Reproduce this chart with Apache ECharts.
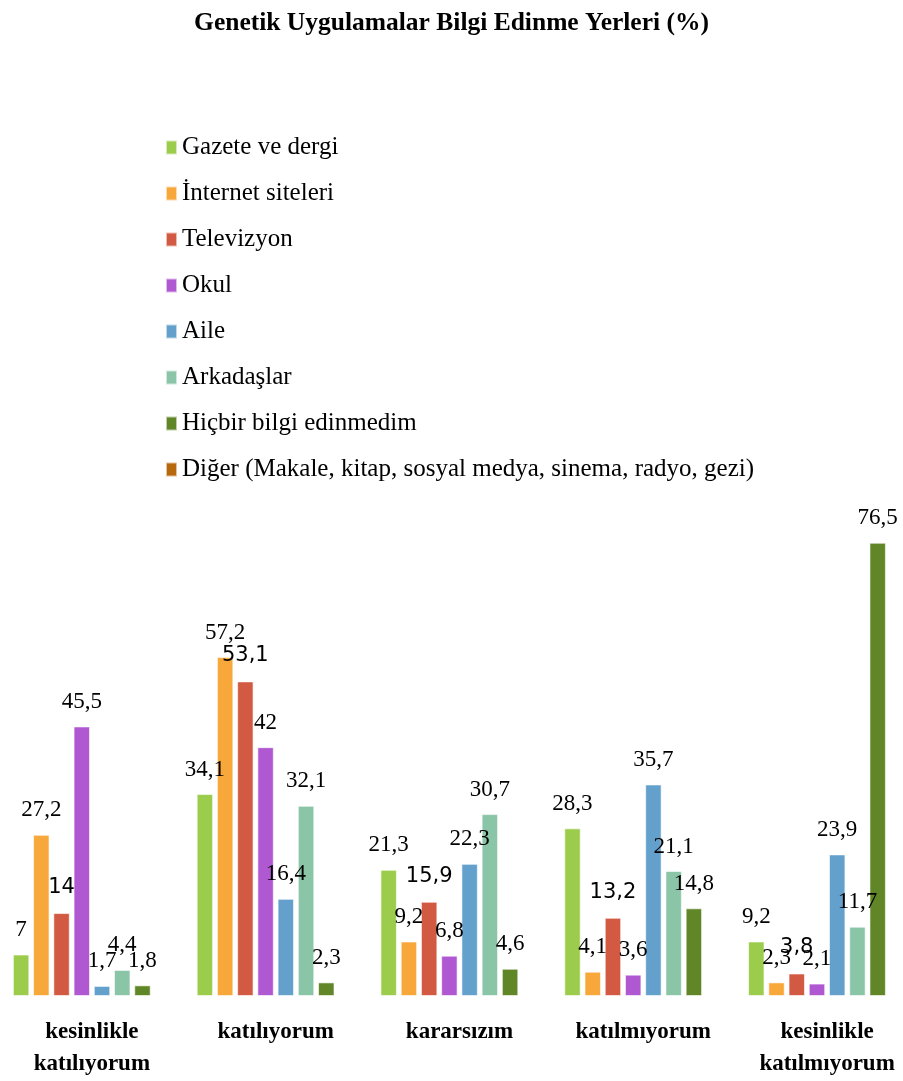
<!DOCTYPE html>
<html>
<head>
<meta charset="utf-8">
<script src="https://cdn.jsdelivr.net/npm/echarts@6/dist/echarts.min.js"></script>
<style>
	html, body { margin: 0; padding: 0; background: #fff; }
	#chart { width: 903px; height: 1081px; }
</style>
</head>
<body>
<div id="chart"></div>
<script>

// categories (answers) on the x axis
var categories = [
	'kesinlikle\nkatılıyorum',
	'katılıyorum',
	'kararsızım',
	'katılmıyorum',
	'kesinlikle\nkatılmıyorum'
];

var seriesNames = [
	'Gazete ve dergi',
	'İnternet siteleri',
	'Televizyon',
	'Okul',
	'Aile',
	'Arkadaşlar',
	'Hiçbir bilgi edinmedim',
	'Diğer (Makale, kitap, sosyal medya, sinema, radyo, gezi)'
];

var gazete     = [7, 34.1, 21.3, 28.3, 9.2];
var internet   = [27.2, 57.2, 9.2, 4.1, 2.3];
var televizyon = [14, 53.1, 15.9, 13.2, 3.8];
var okul       = [45.5, 42, 6.8, 3.6, 2.1];
var aile       = [1.7, 16.4, 22.3, 35.7, 23.9];
var arkadaslar = [4.4, 32.1, 30.7, 21.1, 11.7];
var hicbir     = [1.8, 2.3, 4.6, 14.8, 76.5];
var diger      = [null, null, null, null, null];

var seriesValues = [gazete, internet, televizyon, okul, aile, arkadaslar, hicbir, diger];

var colors = ['#9ccc4c', '#f8a73a', '#d35a42', '#b058d2', '#63a0cc', '#8bc5a8', '#608628', '#b8680c'];

var serif = '"Liberation Serif", "Times New Roman", serif';

//comma as decimal separator
function fmt(p){
	if(p.value == null) return '';
	return String(p.value).replace('.', ',');
}

var series = [];
for(var ii = 0; ii < seriesNames.length; ii++){
	// Televizyon labels use a different (sans) font in the original
	var isTv = ii === 2;
	series.push({
		name: seriesNames[ii],
		type: 'bar',
		data: seriesValues[ii],
		barGap: '23%',
		barCategoryGap: '14%',
		itemStyle: { color: colors[ii], borderColor: 'rgba(255,255,255,0.6)', borderWidth: 1 },
		label: {
			show: true,
			position: 'top',
			distance: isTv ? 15 : 13,
			formatter: fmt,
			color: '#000',
			fontFamily: isTv ? '"DejaVu Sans", sans-serif' : serif,
			fontSize: isTv ? 21 : 23
		}
	});
}

var option = {
	animation: false,
	color: colors,
	title: {
		text: 'Genetik Uygulamalar Bilgi Edinme Yerleri (%)',
		left: 'center',
		top: 5,
		textStyle: { fontFamily: serif, fontWeight: 'bold', fontSize: 25.5, color: '#000' }
	},
	legend: {
		orient: 'vertical',
		left: 160,
		top: 130,
		icon: 'rect',
		itemWidth: 11,
		itemHeight: 14,
		itemGap: 21,
		data: seriesNames,
		textStyle: { fontFamily: serif, fontSize: 25, color: '#000', lineHeight: 25 }
	},
	// the original chart is cropped on the right, so the grid runs past the canvas edge
	grid: { left: 0, width: 919, top: 522, bottom: 85, outerBoundsMode: 'none' },
	xAxis: {
		type: 'category',
		data: categories,
		axisLine: { show: false },
		axisTick: { show: false },
		axisLabel: {
			margin: 20,
			interval: 0,
			fontFamily: serif,
			fontWeight: 'bold',
			fontSize: 23,
			lineHeight: 32,
			color: '#000'
		}
	},
	yAxis: {
		type: 'value',
		min: 0,
		max: 80,
		show: false,
		splitLine: { show: false }
	},
	series: series
};

var chart = echarts.init(document.getElementById('chart'));
chart.setOption(option);

</script>
</body>
</html>
